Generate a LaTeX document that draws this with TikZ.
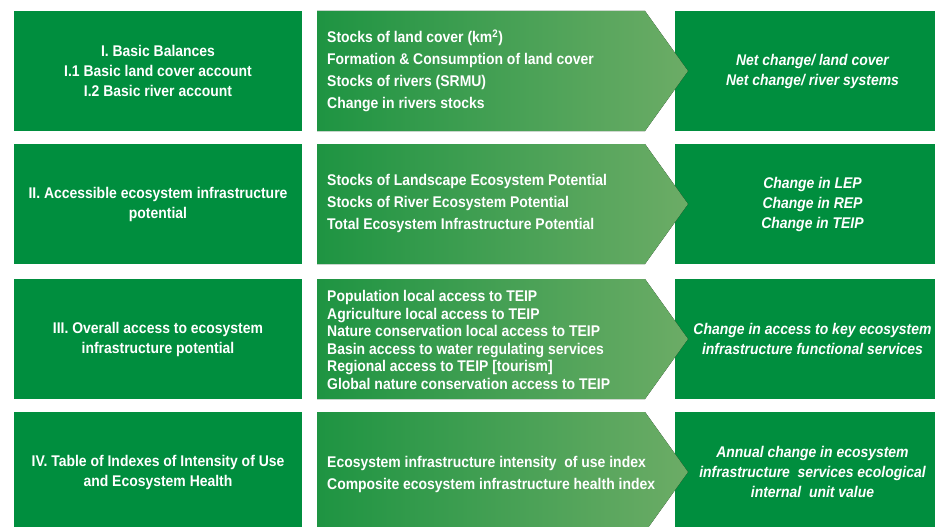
\documentclass[tikz,border=0pt]{standalone}
\usepackage{fontspec}
\setmainfont[FakeStretch=0.9]{Liberation Sans}
\definecolor{boxgreen}{RGB}{0,142,62}
\definecolor{arrL}{RGB}{30,148,66}
\definecolor{arrR}{RGB}{108,172,102}
\begin{document}
\begin{tikzpicture}[x=1pt,y=-1pt,
  leftbox/.style={fill=boxgreen, inner sep=0pt, minimum width=288pt, minimum height=120pt,
    text=white, align=center, font=\fontsize{15.5}{20}\selectfont\bfseries},
  rightbox/.style={fill=boxgreen, inner sep=0pt, minimum width=275pt, minimum height=120pt,
    text=white, align=center, font=\fontsize{15.5}{20}\selectfont\bfseries\itshape},
  arrowshape/.style={left color=arrL, right color=arrR},
  midtext/.style={anchor=west, inner sep=0pt, text=white, align=left,
    font=\fontsize{15.5}{22}\selectfont\bfseries}]
\useasboundingbox (0,0) rectangle (935,527);
\begin{scope}
\clip (0,0) rectangle (935,527);
% row centres: 71, 204, 339, 472
\node[leftbox] (L1) at (158,71) {I. Basic Balances\\I.1 Basic land cover account\\I.2 Basic river account};
\node[leftbox] (L2) at (158,204) {II. Accessible ecosystem infrastructure\\potential};
\node[leftbox] (L3) at (158,339) {III. Overall access to ecosystem\\infrastructure potential};
\node[leftbox] (L4) at (158,472) {IV. Table of Indexes of Intensity of Use\\and Ecosystem Health};

\node[rightbox] (R1) at (812.5,71) {Net change/ land cover\\Net change/ river systems};
\node[rightbox] (R2) at (812.5,204) {Change in LEP\\Change in REP\\Change in TEIP};
\node[rightbox] (R3) at (812.5,339) {Change in access to key ecosystem\\infrastructure functional services};
\node[rightbox] (R4) at (812.5,472) {Annual change in ecosystem\\infrastructure\ \ services ecological\\internal\ \ unit value};

% arrows drawn over the right boxes' edges
\foreach \c in {71,204,339,472}{
  \fill[arrowshape] (317,\c-60) -- (645,\c-60) -- (688,\c) -- (645,\c+60) -- (317,\c+60) -- cycle;
}
\node[midtext] (M1) at (327,71) {Stocks of land cover (km\textsuperscript{2})\\Formation \& Consumption of land cover\\Stocks of rivers (SRMU)\\Change in rivers stocks};
\node[midtext] (M2) at (327,203) {Stocks of Landscape Ecosystem Potential\\Stocks of River Ecosystem Potential\\Total Ecosystem Infrastructure Potential};
\node[midtext, font=\fontsize{15.5}{17.6}\selectfont\bfseries] (M3) at (327,340) {Population local access to TEIP\\Agriculture local access to TEIP\\Nature conservation local access to TEIP\\Basin access to water regulating services\\Regional access to TEIP [tourism]\\Global nature conservation access to TEIP};
\node[midtext] (M4) at (327,474) {Ecosystem infrastructure intensity\ \ of use index\\Composite ecosystem infrastructure health index};
\end{scope}
\end{tikzpicture}
\end{document}
